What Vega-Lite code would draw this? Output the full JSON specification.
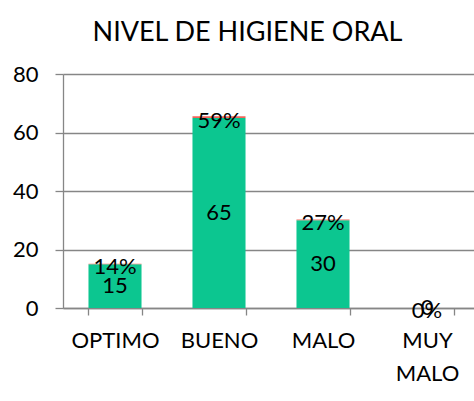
{
  "$schema": "https://vega.github.io/schema/vega-lite/v6.json",
  "autosize": {"type": "none"},
  "padding": {"left": 63, "top": 74, "right": 0, "bottom": 93},
  "width": 411,
  "height": 234,
  "background": "white",
  "title": {"text": "NIVEL DE HIGIENE ORAL", "font": "Lato", "fontSize": 27, "fontWeight": "normal", "color": "#000000", "anchor": "middle", "frame": "group", "dx": -21, "baseline": "alphabetic", "offset": -5},
  "data": {"values": [
    {"nivel": "OPTIMO", "n": 15, "pct": 0.136},
    {"nivel": "BUENO", "n": 65, "pct": 0.591},
    {"nivel": "MALO", "n": 30, "pct": 0.273},
    {"nivel": "MUY MALO", "n": 0, "pct": 0}
  ]},
  "encoding": {
    "x": {"field": "nivel", "type": "nominal", "sort": null,
      "scale": {"range": [0, 416], "paddingInner": 0.49, "paddingOuter": 0.245},
      "axis": {"title": null, "labelAngle": 0, "labelFont": "Lato", "labelFontSize": 22, "labelColor": "#000000", "tickBand": "extent", "tickSize": 7, "tickColor": "#868686", "tickWidth": 1.3, "domainColor": "#868686", "domainWidth": 1.3, "labelPadding": 15, "labelExpr": "split(datum.label, ' ')", "labelLineHeight": 33, "labelBaseline": "top"}}
  },
  "layer": [
    {
      "transform": [{"fold": ["n", "pct"], "as": ["serie", "valor"]}],
      "mark": {"type": "bar"},
      "encoding": {
        "y": {"field": "valor", "type": "quantitative", "stack": "zero",
          "scale": {"domain": [0, 80], "nice": false},
          "axis": {"title": null, "values": [0, 20, 40, 60, 80], "grid": true, "gridColor": "#868686", "gridWidth": 1.3, "domainColor": "#868686", "domainWidth": 1.3, "tickColor": "#868686", "tickWidth": 1.3, "tickSize": 8, "labelFont": "Lato", "labelFontSize": 22, "labelColor": "#000000", "labelPadding": 17}},
        "color": {"field": "serie", "type": "nominal", "scale": {"domain": ["n", "pct"], "range": ["#0CC690", "#F2645A"]}, "legend": null},
        "order": {"field": "serie", "type": "nominal"}
      }
    },
    {
      "mark": {"type": "text", "font": "Lato", "fontSize": 22, "baseline": "middle", "color": "#000000"},
      "encoding": {
        "y": {"field": "n", "type": "quantitative", "scale": {"domain": [0, 160], "nice": false}, "axis": null},
        "text": {"field": "n", "type": "quantitative"}
      }
    },
    {
      "mark": {"type": "text", "font": "Lato", "fontSize": 22, "baseline": "middle", "dy": 3, "color": "#000000"},
      "encoding": {
        "y": {"field": "n", "type": "quantitative", "scale": {"domain": [0, 80], "nice": false}, "axis": null},
        "text": {"field": "pct", "type": "quantitative", "format": ".0%"}
      }
    }
  ],
  "resolve": {"scale": {"y": "independent"}},
  "config": {"view": {"stroke": null}}
}
